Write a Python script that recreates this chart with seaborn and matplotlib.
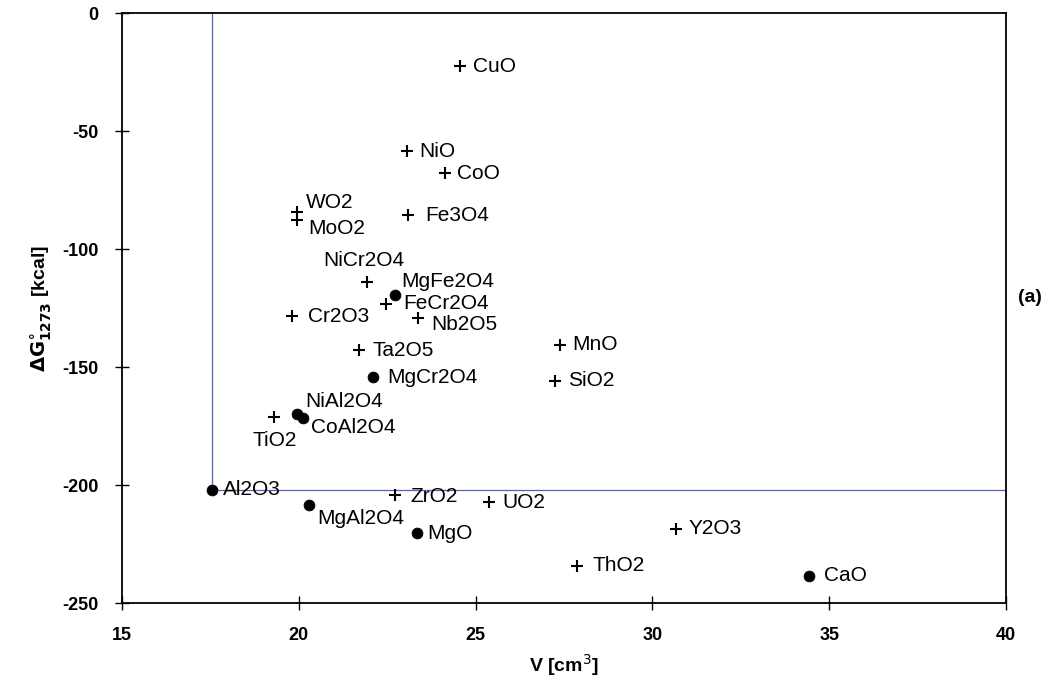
import seaborn as sns
import matplotlib.pyplot as plt
import numpy as np
import pandas as pd

# oxides: molar volume V [cm3] vs free energy of formation at 1273 K [kcal]
names = ['CuO', 'NiO', 'CoO', 'WO2', 'MoO2', 'Fe3O4', 'NiCr2O4', 'MgFe2O4',
         'FeCr2O4', 'Nb2O5', 'Cr2O3', 'Ta2O5', 'MgCr2O4', 'NiAl2O4', 'CoAl2O4',
         'TiO2', 'Al2O3', 'MgAl2O4', 'ZrO2', 'UO2', 'MgO', 'ThO2', 'MnO',
         'SiO2', 'Y2O3', 'CaO']
volume = [24.56, 23.06, 24.13, 19.94, 19.94, 23.08, 21.94, 22.72,
          22.47, 23.38, 19.80, 21.70, 22.11, 19.94, 20.11,
          19.31, 17.54, 20.30, 22.72, 25.39, 23.35, 27.87, 27.39,
          27.25, 30.67, 34.43]
dG = [-22.5, -58.6, -67.9, -84.3, -87.5, -85.6, -113.9, -119.3,
      -123.1, -129.2, -128.5, -143.0, -154.4, -169.9, -171.6,
      -171.3, -202.0, -208.4, -204.2, -207.4, -220.4, -234.3, -140.5,
      -155.8, -218.6, -238.5]
kind = ['cross', 'cross', 'cross', 'cross', 'cross', 'cross', 'cross', 'dot',
        'cross', 'cross', 'cross', 'cross', 'dot', 'dot', 'dot',
        'cross', 'dot', 'dot', 'cross', 'cross', 'dot', 'cross', 'cross',
        'cross', 'cross', 'dot']

# label offsets in points (dx, dy)
offsets = {'WO2': (7, 6.5), 'MoO2': (8.5, -6.5), 'NiCr2O4': (-32, 15),
           'MgFe2O4': (4.5, 9.5), 'FeCr2O4': (12, 0), 'Nb2O5': (9.5, -5),
           'Cr2O3': (11.5, 0), 'Ta2O5': (10, 0), 'MgCr2O4': (10, 0),
           'NiAl2O4': (6.5, 9), 'CoAl2O4': (6, -7), 'TiO2': (-15.5, -17),
           'Al2O3': (8, 0), 'MgAl2O4': (5.5, -10), 'ZrO2': (11, -1.5),
           'MgO': (7.5, 0), 'ThO2': (11, 0), 'Fe3O4': (12.5, 0),
           'CaO': (10.5, 0), 'CuO': (9.5, 0)}

df = pd.DataFrame({'name': names, 'V': volume, 'dG': dG, 'kind': kind})

sns.set_style('ticks')
plt.rcParams['font.family'] = ['Liberation Sans', 'DejaVu Sans']
plt.rcParams['axes.unicode_minus'] = False
plt.rcParams['text.color'] = 'black'
plt.rcParams['axes.labelcolor'] = 'black'
plt.rcParams['xtick.color'] = 'black'
plt.rcParams['ytick.color'] = 'black'

fig = plt.figure(figsize=(10.59, 6.88), dpi=100)
ax = fig.add_axes([122 / 1059, 1 - 603 / 688, (1006 - 122) / 1059, (603 - 13) / 688])

# reference lines through Al2O3
al = df[df['name'] == 'Al2O3'].iloc[0]
ax.plot([al['V'], al['V']], [0, al['dG']], color='#5566aa', lw=0.9, zorder=1)
ax.plot([al['V'], 40], [al['dG'], al['dG']], color='#5566aa', lw=0.9, zorder=1)

sns.scatterplot(data=df[df['kind'] == 'cross'], x='V', y='dG', marker='+',
                s=65, color='black', linewidth=1.5, ax=ax, zorder=3)
sns.scatterplot(data=df[df['kind'] == 'dot'], x='V', y='dG', marker='o',
                s=60, color='black', edgecolor='black', ax=ax, zorder=3)

for _, r in df.iterrows():
    dx, dy = offsets.get(r['name'], (9, 0))
    ax.annotate(r['name'], (r['V'], r['dG']), xytext=(dx, dy),
                textcoords='offset points', ha='left', va='center', fontsize=15)

ax.set_xlim(15, 40)
ax.set_ylim(-250, 0)
ax.set_xticks(np.arange(15, 41, 5))
ax.set_yticks(np.arange(-250, 1, 50))
ax.tick_params(direction='inout', length=10, width=1, labelsize=13, pad=12)
for lab in ax.get_xticklabels() + ax.get_yticklabels():
    lab.set_fontweight('bold')
for s in ax.spines.values():
    s.set_linewidth(1.3)
    s.set_color('black')
    s.set_visible(True)

ax.set_xlabel(r'V [cm$^3$]', fontsize=14, fontweight='bold', labelpad=6)
ax.set_ylabel(r'$\mathbf{\Delta G^{\circ}_{1273}}$ [kcal]', fontsize=14,
              fontweight='bold', labelpad=6)
fig.text(1030 / 1059, 1 - 297 / 688, '(a)', fontsize=14, fontweight='bold',
         ha='center', va='center')

fig.savefig('out.png', dpi=100)
